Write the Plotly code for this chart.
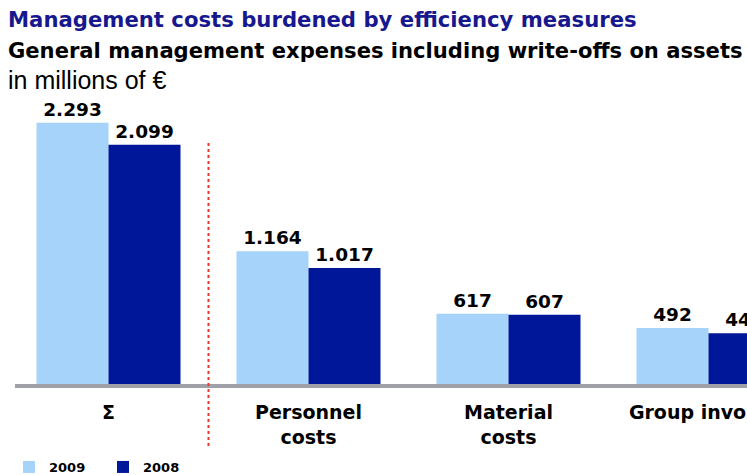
import plotly.graph_objects as go

# ---- data ----
categories = ["Σ", "Personnel<br>costs", "Material<br>costs", "Group invoices"]
values_2009 = [2293, 1164, 617, 492]
values_2008 = [2099, 1017, 607, 445]
series_names = ["2009", "2008"]

title_main = "Management costs burdened by efficiency measures"
title_sub = "General management expenses including write-offs on assets"
unit_label = "in millions of €"

# ---- layout helpers (screen pixels; page margin removed below) ----
W, H = 747, 475
ML, MR = 15, 0
PLOT_BOTTOM = 384
PLOT_TOP = 100
MT, MB = PLOT_TOP, H - PLOT_BOTTOM
PLOT_H = PLOT_BOTTOM - PLOT_TOP
PLOT_W = W - ML - MR
CAT0 = 108.5                     # x of first category centre
STEP = 200.0                     # px per category


def ypaper(y):
    return (PLOT_BOTTOM - y) / PLOT_H


def xpaper(x):
    return (x - ML) / PLOT_W


FONT = "DejaVu Sans"
COLORS = ["#A6D3FA", "#00179A"]

fig = go.Figure()
for name, vals, color in zip(series_names, [values_2009, values_2008], COLORS):
    fig.add_trace(go.Bar(
        x=categories, y=vals, name=name,
        marker=dict(color=color, line=dict(width=0)),
        texttemplate="<b>%{y:,.0f}</b>", textposition="outside",
        cliponaxis=False, constraintext="none",
        textfont=dict(family=FONT, size=18.5, color="black"),
    ))

fig.add_shape(type="line", xref="x", yref="paper", x0=0.5, x1=0.5,
              y0=ypaper(446), y1=ypaper(142),
              line=dict(color="#F0362C", width=2, dash="dot"))

fig.add_annotation(text="<b>" + title_main + "</b>", xref="paper", yref="paper",
                   x=xpaper(6), y=ypaper(20), xanchor="left", yanchor="middle",
                   showarrow=False, font=dict(family=FONT, size=21.2, color="#17188E"))
fig.add_annotation(text="<b>" + title_sub + "</b>", xref="paper", yref="paper",
                   x=xpaper(6), y=ypaper(50), xanchor="left", yanchor="middle",
                   showarrow=False, font=dict(family=FONT, size=21.1, color="black"))
fig.add_annotation(text=unit_label, xref="paper", yref="paper",
                   x=xpaper(6), y=ypaper(80), xanchor="left", yanchor="middle",
                   showarrow=False, font=dict(family="Liberation Sans", size=25, color="black"))

fig.update_layout(
    width=W, height=H,
    margin=dict(l=ML, r=MR, t=MT, b=MB, pad=0),
    paper_bgcolor="white", plot_bgcolor="white",
    separators=",.",
    barmode="group", bargap=0.28, bargroupgap=0,
    showlegend=True,
    legend=dict(orientation="h", xref="container", yref="container",
                x=9 / W, xanchor="left", y=(H - 467) / H, yanchor="middle",
                font=dict(family=FONT, size=13, color="black", weight="bold"),
                entrywidth=49, entrywidthmode="pixels",
                bgcolor="rgba(0,0,0,0)"),
    xaxis=dict(range=[(ML - CAT0) / STEP, (ML + PLOT_W - CAT0) / STEP],
               showline=True, linecolor="#A0A0A8", linewidth=4,
               ticks="", showgrid=False, automargin=False, fixedrange=True,
               tickfont=dict(family=FONT, size=19, color="black", weight="bold"),
               ticklabelstandoff=8),
    yaxis=dict(range=[0, PLOT_H / 0.11396], visible=False, showgrid=False,
               zeroline=False, automargin=False, fixedrange=True),
)

fig.write_html("out.html", config={"displayModeBar": False},
               post_script="document.body.style.margin='0';document.body.style.overflow='hidden';")
